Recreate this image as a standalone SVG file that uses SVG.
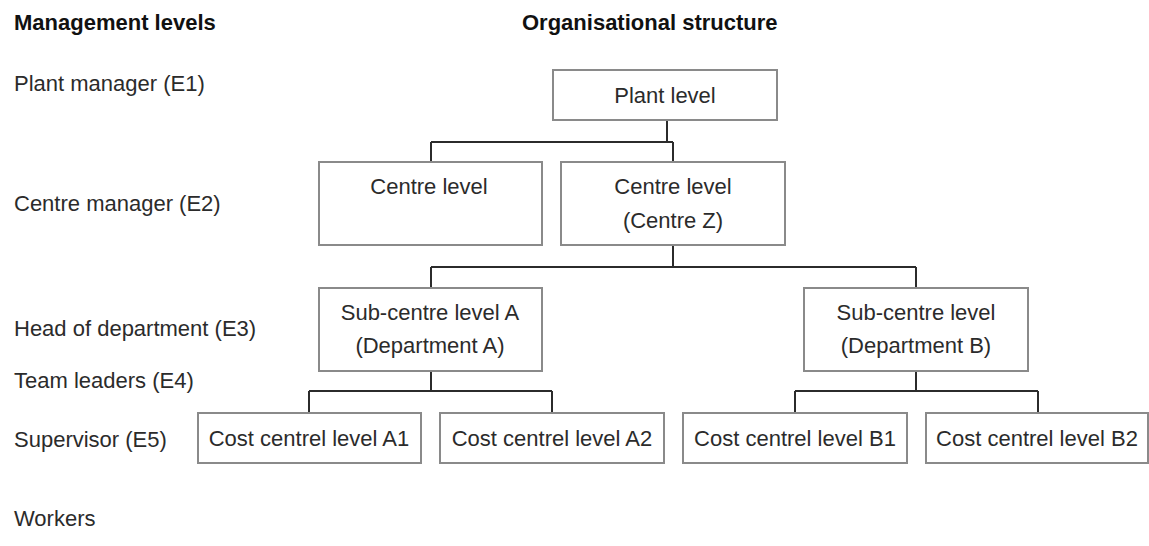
<svg xmlns="http://www.w3.org/2000/svg" width="1149" height="546" viewBox="0 0 1149 546">
  <style>
    text { font-family: "Liberation Sans", Arial, sans-serif; font-size: 22px; fill: #2b2b2b; }
    .head { font-weight: bold; fill: #111; }
    .box rect { fill: #fff; stroke: #8a8a8a; stroke-width: 2; }
    .box text { text-anchor: middle; }
    #connectors path { fill: none; stroke: #2b2b2b; stroke-width: 2; }
  </style>
  <rect width="1149" height="546" fill="#fff"/>

  <!-- column headings -->
  <text class="head" x="14" y="30">Management levels</text>
  <text class="head" x="522" y="30">Organisational structure</text>

  <!-- management level labels -->
  <g id="levels">
    <text x="14" y="91">Plant manager (E1)</text>
    <text x="14" y="211">Centre manager (E2)</text>
    <text x="14" y="336">Head of department (E3)</text>
    <text x="14" y="388">Team leaders (E4)</text>
    <text x="14" y="447">Supervisor (E5)</text>
    <text x="14" y="526">Workers</text>
  </g>

  <!-- tree connectors -->
  <g id="connectors">
    <path d="M667 120 V142 M431 142 H673 M431 142 V162 M673 142 V162"/>
    <path d="M673 245 V267 M431 267 H916 M431 267 V288 M916 267 V288"/>
    <path d="M431 371 V391 M309 391 H552 M309 391 V413 M552 391 V413"/>
    <path d="M916 371 V391 M795 391 H1038 M795 391 V413 M1038 391 V413"/>
  </g>

  <g id="plant" class="box">
    <rect x="553" y="70" width="224" height="50"/>
    <text x="665" y="103">Plant level</text>
  </g>
  <g id="centre" class="box">
    <rect x="319" y="162" width="223" height="83"/>
    <text x="429" y="194">Centre level</text>
  </g>
  <g id="centre-z" class="box">
    <rect x="561" y="162" width="224" height="83"/>
    <text x="673" y="194">Centre level</text>
    <text x="673" y="228">(Centre Z)</text>
  </g>
  <g id="sub-a" class="box">
    <rect x="319" y="288" width="223" height="83"/>
    <text x="430" y="320">Sub-centre level A</text>
    <text x="430" y="353">(Department A)</text>
  </g>
  <g id="sub-b" class="box">
    <rect x="804" y="288" width="224" height="83"/>
    <text x="916" y="320">Sub-centre level</text>
    <text x="916" y="353">(Department B)</text>
  </g>
  <g id="cost-a1" class="box">
    <rect x="198" y="413" width="223" height="50"/>
    <text x="309" y="446">Cost centrel level A1</text>
  </g>
  <g id="cost-a2" class="box">
    <rect x="440" y="413" width="224" height="50"/>
    <text x="552" y="446">Cost centrel level A2</text>
  </g>
  <g id="cost-b1" class="box">
    <rect x="683" y="413" width="224" height="50"/>
    <text x="795" y="446">Cost centrel level B1</text>
  </g>
  <g id="cost-b2" class="box">
    <rect x="926" y="413" width="222" height="50"/>
    <text x="1037" y="446">Cost centrel level B2</text>
  </g>
</svg>
